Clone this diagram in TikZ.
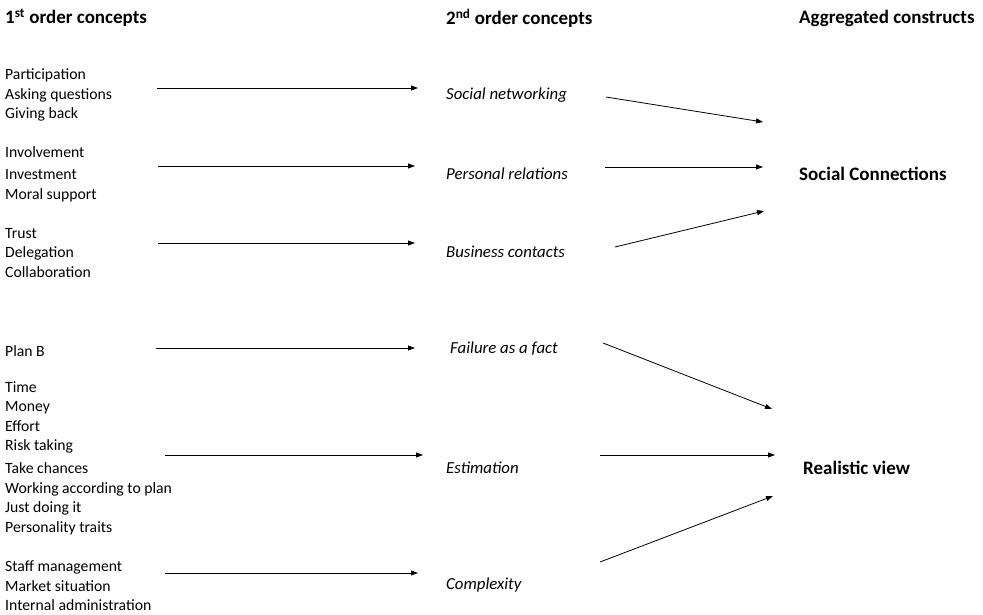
\documentclass[tikz,border=0pt]{standalone}
\usepackage{fontspec}
\setmainfont{Carlito}
\usetikzlibrary{positioning,arrows.meta}

\begin{document}
\begin{tikzpicture}[
    x=1pt, y=-1pt,
    font={\fontsize{15.7}{19.6}\selectfont},
    base/.style={inner sep=0pt,anchor=west},
    head/.style={base,font={\fontsize{19}{22}\selectfont\bfseries}},
    first/.style={base,align=left},
    second/.style={base,font={\fontsize{16.8}{19.6}\selectfont\itshape}},
    construct/.style={base,font={\fontsize{19}{22}\selectfont\bfseries}},
    link/.style={-{Triangle[length=7pt,width=5pt]},line width=0.8pt},
]
    \useasboundingbox (0,0) rectangle (983,614);

    % Headers
    \node[head] (head1) at (5,18)   {1\textsuperscript{st} order concepts};
    \node[head] (head2) at (446,18) {2\textsuperscript{nd} order concepts};
    \node[head] (head3) at (799,18) {Aggregated constructs};

    % 1st order concepts
    \node[first] (participation) at (5,95)  {Participation\\Asking questions\\Giving back};
    \node[first] (involvement)   at (5,174) {Involvement\\[3pt]Investment\\Moral support};
    \node[first] (trust)         at (5,253) {Trust\\Delegation\\Collaboration};
    \node[first] (planb)         at (5,351) {Plan B};
    \node[first] (time)          at (5,458) {Time\\Money\\Effort\\Risk taking\\[3pt]Take chances\\Working according to plan\\Just doing it\\Personality traits};
    \node[first] (staff)         at (5,586) {Staff management\\Market situation\\Internal administration};

    % 2nd order concepts
    \node[second] (networking) at (446,95)  {Social networking};
    \node[second] (personal)   at (446,174) {Personal relations};
    \node[second] (business)   at (446,252) {Business contacts};
    \node[second] (failure)    at (450,349) {Failure as a fact};
    \node[second] (estimation) at (446,468) {Estimation};
    \node[second] (complexity) at (446,585) {Complexity};

    % Aggregated constructs
    \node[construct] (social)    at (799,174) {Social Connections};
    \node[construct] (realistic) at (803,468) {Realistic view};

    % Arrows
    \draw[link] ([shift={(152,-7)}]participation.west) -- ([shift={(-28,-7)}]networking.west);
    \draw[link] ([shift={(153,-8)}]involvement.west)   -- ([shift={(-31,-8)}]personal.west);
    \draw[link] ([shift={(153,-10)}]trust.west)        -- ([shift={(-31,-9)}]business.west);
    \draw[link] ([shift={(151,-3)}]planb.west)         -- ([shift={(-35,-1)}]failure.west);
    \draw[link] ([shift={(160,-3)}]time.west)          -- ([shift={(-23,-13)}]estimation.west);
    \draw[link] ([shift={(160,-13)}]staff.west)        -- ([shift={(-28,-12)}]complexity.west);

    \draw[link] ([shift={(160,2)}]networking.west)  -- ([shift={(-36,-52)}]social.west);
    \draw[link] ([shift={(159,-7)}]personal.west)   -- ([shift={(-36,-7)}]social.west);
    \draw[link] ([shift={(169,-5)}]business.west)   -- ([shift={(-35,37)}]social.west);
    \draw[link] ([shift={(153,-6)}]failure.west)    -- ([shift={(-31,-59)}]realistic.west);
    \draw[link] ([shift={(154,-13)}]estimation.west) -- ([shift={(-28,-13)}]realistic.west);
    \draw[link] ([shift={(154,-23)}]complexity.west) -- ([shift={(-30,28)}]realistic.west);

\end{tikzpicture}
\end{document}
